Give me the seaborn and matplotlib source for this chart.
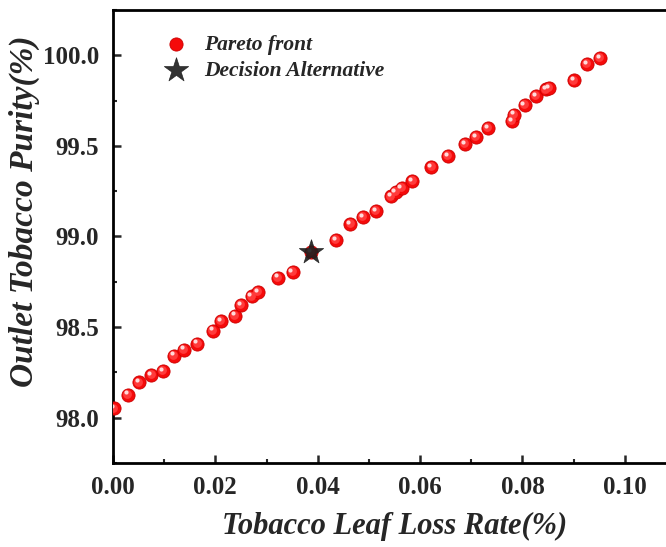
import matplotlib
matplotlib.use("Agg")
import matplotlib.pyplot as plt
import matplotlib.transforms as mtransforms
from matplotlib.ticker import MultipleLocator, FormatStrFormatter
import seaborn as sns
import pandas as pd

# Pareto-optimal solutions: leaf loss rate (%) vs outlet purity (%)
loss_rate = [0.0002, 0.0029, 0.0051, 0.0075, 0.0098, 0.0119, 0.0139, 0.0165,
             0.0196, 0.0211, 0.0238, 0.0250, 0.0271, 0.0283, 0.0323, 0.0351,
             0.0387, 0.0436, 0.0464, 0.0488, 0.0514, 0.0543, 0.0552, 0.0564,
             0.0585, 0.0622, 0.0655, 0.0688, 0.0709, 0.0733, 0.0780, 0.0783,
             0.0804, 0.0826, 0.0846, 0.0852, 0.0901, 0.0926, 0.0952]
purity = [98.051, 98.128, 98.195, 98.234, 98.259, 98.343, 98.376, 98.409,
          98.481, 98.534, 98.563, 98.623, 98.669, 98.693, 98.773, 98.804,
          98.914, 98.982, 99.070, 99.106, 99.141, 99.221, 99.247, 99.269,
          99.306, 99.384, 99.444, 99.512, 99.549, 99.600, 99.636, 99.673,
          99.726, 99.775, 99.812, 99.819, 99.861, 99.953, 99.984]

# Selected compromise solution
decision_loss = [0.0387]
decision_purity = [98.914]

front = pd.DataFrame({"loss": loss_rate, "purity": purity})
decision = pd.DataFrame({"loss": decision_loss, "purity": decision_purity})

sns.set_style("ticks")
plt.rcParams["font.family"] = ["Liberation Serif", "DejaVu Serif"]
plt.rcParams["font.weight"] = "bold"
plt.rcParams["mathtext.default"] = "regular"

fig = plt.figure(figsize=(6.66, 5.47), dpi=100)
ax = fig.add_axes([113 / 666, 84 / 547, 563 / 666, 453 / 547])

# glossy red spheres: base ball, lighter body, then a small highlight
sns.scatterplot(data=front, x="loss", y="purity", ax=ax, s=90,
                color="#f50a0a", edgecolor="#cc0000", linewidth=0.6,
                label="Pareto front", zorder=3)
shift1 = mtransforms.offset_copy(ax.transData, fig=fig, x=-0.6, y=0.6, units="points")
ax.scatter(front["loss"], front["purity"], s=40, color="#ff3a3a",
           linewidths=0, transform=shift1, zorder=4)
shift2 = mtransforms.offset_copy(ax.transData, fig=fig, x=-1.6, y=1.6, units="points")
ax.scatter(front["loss"], front["purity"], s=9, color="#ffdada",
           linewidths=0, transform=shift2, zorder=5)

sns.scatterplot(data=decision, x="loss", y="purity", ax=ax, marker="*",
                s=340, color="#1c1c1c", edgecolor="#1c1c1c", linewidth=0.5,
                alpha=0.9, label="Decision Alternative", zorder=6)

ax.set_xlim(0, 0.11)
ax.set_ylim(97.75, 100.25)
ax.xaxis.set_major_locator(MultipleLocator(0.02))
ax.xaxis.set_minor_locator(MultipleLocator(0.01))
ax.yaxis.set_major_locator(MultipleLocator(0.5))
ax.yaxis.set_minor_locator(MultipleLocator(0.25))
ax.xaxis.set_major_formatter(FormatStrFormatter("%.2f"))
ax.yaxis.set_major_formatter(FormatStrFormatter("%.1f"))

for side in ["left", "bottom", "top", "right"]:
    ax.spines[side].set_visible(True)
    ax.spines[side].set_linewidth(2.0)
    ax.spines[side].set_color("black")

ax.tick_params(axis="both", which="major", direction="in", length=6,
               width=1.8, labelsize=18)
ax.tick_params(axis="both", which="minor", direction="in", length=3,
               width=1.5)
ax.tick_params(axis="x", which="both", top=False, pad=9)
ax.tick_params(axis="y", which="both", right=False, pad=10)
for lab in ax.get_xticklabels() + ax.get_yticklabels():
    lab.set_fontweight("bold")

ax.set_xlabel("Tobacco Leaf Loss Rate(%)", fontsize=22, fontweight="bold",
              fontstyle="italic")
ax.set_ylabel("Outlet Tobacco Purity(%)", fontsize=24, fontweight="bold",
              fontstyle="italic")
ax.xaxis.set_label_coords(0.50, -0.108)
ax.yaxis.set_label_coords(-0.13, 0.555)

leg = ax.legend(loc="upper left", bbox_to_anchor=(0.0775, 0.965), frameon=False,
                prop={"family": "Liberation Serif", "weight": "bold",
                      "style": "italic", "size": 15.5},
                handlelength=1.0, handletextpad=0.8, labelspacing=0.3,
                borderaxespad=0.0, markerscale=1.0)

fig.savefig("out.png", dpi=100)
